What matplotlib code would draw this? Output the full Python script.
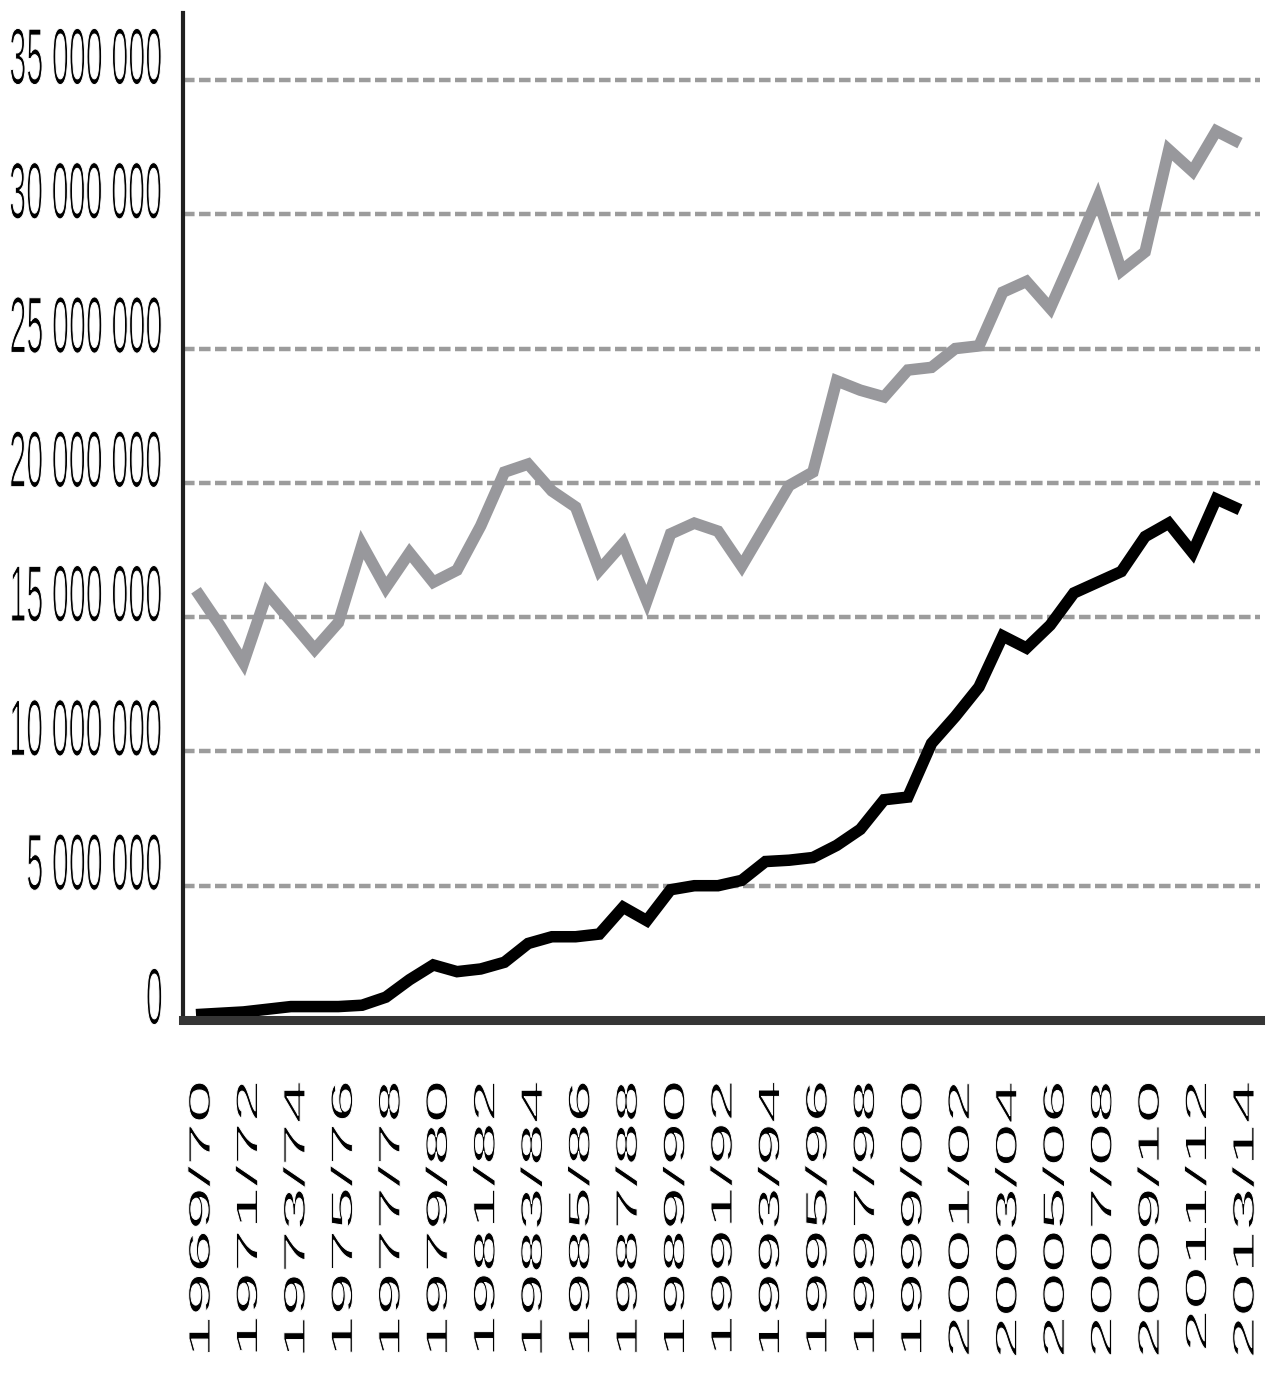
import numpy as np
import matplotlib
matplotlib.use('Agg')
import matplotlib.pyplot as plt
from matplotlib.patheffects import AbstractPathEffect
from matplotlib.transforms import Affine2D, offset_copy

# seasons 1969/70 .. 2013/14
seasons = [f"{y}/{(y + 1) % 100:02d}" for y in range(1969, 2014)]

# values in millions
upper = [16.0, 14.7, 13.3, 15.9, 14.85, 13.8, 14.8, 17.7, 16.1, 17.4,
         16.3, 16.75, 18.4, 20.4, 20.7, 19.7, 19.1, 16.75, 17.75, 15.6,
         18.1, 18.5, 18.2, 16.9, 18.4, 19.9, 20.4, 23.8, 23.45, 23.2,
         24.2, 24.3, 25.0, 25.1, 27.1, 27.5, 26.5, 28.5, 30.6, 27.9,
         28.6, 32.4, 31.6, 33.1, 32.65]
lower = [0.2, 0.25, 0.3, 0.4, 0.5, 0.5, 0.5, 0.55, 0.85, 1.5,
         2.05, 1.8, 1.9, 2.15, 2.85, 3.1, 3.1, 3.2, 4.2, 3.7,
         4.85, 5.0, 5.0, 5.2, 5.9, 5.95, 6.05, 6.5, 7.1, 8.2,
         8.3, 10.3, 11.3, 12.4, 14.3, 13.85, 14.7, 15.9, 16.3, 16.7,
         18.0, 18.5, 17.4, 19.4, 19.0]

ytick_vals = [0, 5e6, 10e6, 15e6, 20e6, 25e6, 30e6, 35e6]
ytick_labels = ['0', '5 000 000', '10 000 000', '15 000 000',
                '20 000 000', '25 000 000', '30 000 000', '35 000 000']


class Stretch(AbstractPathEffect):
    """Scale the glyph outline along (sx) / across (sy) the baseline,
    then trim the strokes with a thin white outline."""

    def __init__(self, sx=1.0, sy=1.0, anchor='center', trim=0.7):
        super().__init__()
        self.sx, self.sy, self.anchor, self.trim = sx, sy, anchor, trim

    def draw_path(self, renderer, gc, tpath, affine, rgbFace=None):
        ext = tpath.get_extents()
        px = ext.x1 if self.anchor == 'end' else 0.5 * (ext.x0 + ext.x1)
        py = 0.5 * (ext.y0 + ext.y1)
        local = Affine2D().translate(-px, -py).scale(self.sx, self.sy).translate(px, py)
        renderer.draw_path(gc, tpath, local + affine, rgbFace)
        gc2 = renderer.new_gc()
        gc2.copy_properties(gc)
        gc2.set_foreground('white')
        gc2.set_linewidth(self.trim)
        renderer.draw_path(gc2, tpath, local + affine, None)
        gc2.restore()


W, H = 1267, 1373
fig = plt.figure(figsize=(W / 100, H / 100), dpi=100)
left, right, top, bottom = 183, 1260, 13, 1020
ax = fig.add_axes([left / W, 1 - bottom / H, (right - left) / W, (bottom - top) / H])

x = np.arange(len(seasons))
px_per_m = (1020 - 80) / 35.0
ax.set_ylim(0, (bottom - top) / px_per_m * 1e6)
step = (1240 - 196) / 44
ax.set_xlim(-(196 - left) / step, 44 + (right - 1240) / step)

for v in ytick_vals[1:]:
    ax.axhline(v, color='#9c9c9c', lw=3.2, linestyle=(0, (2.6, 1.0)), zorder=1)

ax.plot(x, np.array(upper) * 1e6, color='#98989c', lw=8.3,
        solid_joinstyle='miter', solid_capstyle='butt', zorder=3)
ax.plot(x, np.array(lower) * 1e6, color='black', lw=8.3,
        solid_joinstyle='miter', solid_capstyle='butt', zorder=3)

for s in ['top', 'right']:
    ax.spines[s].set_visible(False)
ax.spines['left'].set_color('#202020')
ax.spines['left'].set_linewidth(3)
ax.spines['bottom'].set_color('#353535')
ax.spines['bottom'].set_linewidth(6.5)
ax.spines['bottom'].set_zorder(4)
ax.set_xticks([])
ax.set_yticks([])

ytr = offset_copy(ax.get_yaxis_transform(), fig=fig, x=-20, y=21, units='dots')
for v, s in zip(ytick_vals, ytick_labels):
    ax.text(0, v, s, transform=ytr, ha='right', va='center', fontsize=22,
            family='Liberation Sans', clip_on=False,
            path_effects=[Stretch(sy=2.6)])

xtr = offset_copy(ax.transData, fig=fig, x=6, y=-62, units='dots')
for i in range(0, len(seasons), 2):
    ax.text(x[i], 0, seasons[i], transform=xtr, rotation=90, ha='center',
            va='top', fontsize=22, family='Liberation Sans', clip_on=False,
            path_effects=[Stretch(sx=2.52, anchor='end')])

plt.savefig('out.png', dpi=100)
